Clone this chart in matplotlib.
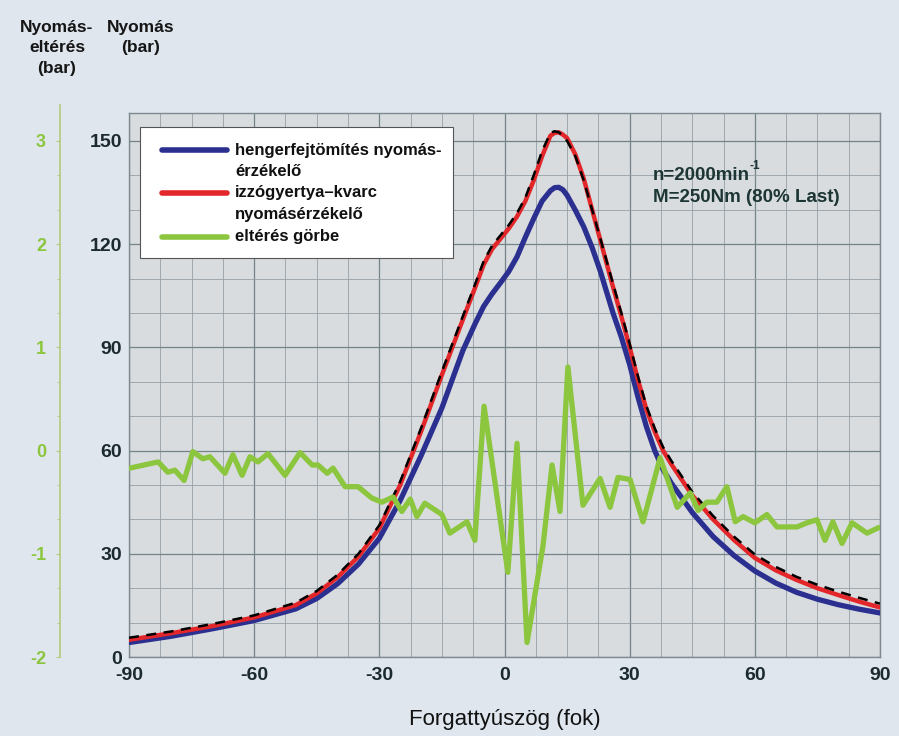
import numpy as np
import matplotlib
matplotlib.use("Agg")
from matplotlib import pyplot as plt
from matplotlib.patches import Rectangle
from matplotlib.lines import Line2D

# forgattyuszog (fok) a nyomasgorbekhez
angle = [-90, -80, -70, -60, -50, -45, -40, -35, -30, -25, -20, -15, -10, -7, -5, -3, -1,
         1, 3, 5, 7, 9, 11, 12, 13, 14, 15, 17, 19, 21, 23, 26, 28, 30, 32, 34, 36, 38, 40,
         45, 50, 55, 60, 65, 70, 75, 80, 85, 90]

# hengerfejtomites nyomaserzekelo (bar)
p_head = [4.2, 6.0, 8.2, 10.6, 14.0, 17.0, 21.3, 27.0, 34.5, 45.5, 58.5, 72.4, 89.0, 97.0,
          101.9, 105.5, 108.7, 112.0, 116.3, 122.0, 127.4, 132.5, 135.5, 136.4, 136.5, 135.8,
          134.2, 129.8, 125.0, 119.0, 112.0, 100.0, 93.0, 85.0, 75.5, 67.0, 60.0, 54.5, 50.5,
          42.0, 35.0, 29.5, 25.0, 21.5, 18.8, 16.8, 15.2, 13.9, 12.8]

# izzogyertya-kvarc nyomaserzekelo (bar)
p_plug = [5.0, 6.9, 9.0, 11.5, 15.1, 18.5, 23.2, 29.2, 37.4, 50.0, 65.5, 82.0, 98.0, 107.5,
          114.0, 118.5, 121.5, 124.5, 128.0, 132.5, 138.5, 145.5, 151.5, 152.3, 152.5, 151.8,
          150.8, 146.0, 139.0, 130.0, 121.0, 107.6, 99.0, 90.0, 80.5, 72.0, 65.5, 60.0, 56.0,
          47.0, 40.0, 34.0, 28.8, 25.2, 22.4, 20.0, 18.0, 16.1, 14.4]

# referencia (fekete szaggatott)
p_ref = [5.6, 7.4, 9.6, 12.1, 15.8, 19.2, 23.9, 30.0, 38.3, 51.0, 66.5, 83.0, 99.0, 108.5,
         115.0, 119.5, 122.5, 125.5, 129.0, 133.5, 140.0, 147.0, 152.3, 152.8, 152.5, 151.5,
         150.0, 145.5, 138.5, 130.0, 121.5, 108.5, 100.0, 91.0, 81.5, 73.0, 66.5, 61.0, 57.0,
         48.0, 41.0, 35.0, 29.8, 26.2, 23.3, 21.0, 19.0, 17.2, 15.5]

# elteres gorbe (bar)
g_angle = [-89.8, -83.0, -80.7, -79.0, -76.8, -74.7, -72.3, -70.6, -67.0, -65.1, -62.9, -61.0,
           -59.1, -56.7, -52.6, -49.0, -46.1, -44.7, -42.5, -41.1, -38.2, -35.1, -31.8, -29.4,
           -26.7, -24.6, -22.6, -21.0, -19.1, -15.0, -13.1, -9.0, -7.1, -4.9, 0.8, 3.0, 5.4,
           9.2, 11.4, 13.3, 15.2, 18.8, 22.9, 25.3, 27.2, 30.1, 33.2, 37.3, 41.4, 44.5, 46.4,
           48.5, 50.9, 53.3, 55.3, 57.2, 60.0, 62.9, 65.3, 70.1, 72.5, 74.9, 76.8, 78.7, 80.9,
           83.3, 86.9, 89.5]
g_dev = [-0.17, -0.11, -0.21, -0.19, -0.29, -0.01, -0.08, -0.06, -0.22, -0.04, -0.24, -0.06,
         -0.11, -0.03, -0.24, -0.02, -0.14, -0.14, -0.22, -0.17, -0.35, -0.35, -0.46, -0.50,
         -0.45, -0.59, -0.47, -0.64, -0.51, -0.62, -0.80, -0.69, -0.87, 0.43, -1.18, 0.07, -1.86,
         -0.93, -0.14, -0.59, 0.81, -0.53, -0.27, -0.55, -0.26, -0.28, -0.69, -0.07, -0.55,
         -0.41, -0.58, -0.50, -0.50, -0.35, -0.69, -0.64, -0.70, -0.62, -0.74, -0.74, -0.70,
         -0.67, -0.87, -0.69, -0.90, -0.70, -0.80, -0.75]

x_ticks = [-90, -60, -30, 0, 30, 60, 90]
p_ticks = [0, 30, 60, 90, 120, 150]
d_ticks = [-2, -1, 0, 1, 2, 3]
legend_labels = ["hengerfejtömítés nyomás-\nérzékelő", "izzógyertya–kvarc\nnyomásérzékelő",
                 "eltérés görbe"]

BLUE = "#2b2f8f"
RED = "#e3262a"
GREEN = "#8cc63e"
DARK = "#1b2a2e"
BG = "#dfe6ee"

plt.rcParams["font.family"] = ["Liberation Sans", "DejaVu Sans"]
plt.rcParams["axes.unicode_minus"] = False

fig = plt.figure(figsize=(8.99, 7.36), dpi=100, facecolor=BG)
W, H = 899, 736
ax = fig.add_axes([129 / W, 1 - 657 / H, 751 / W, 544 / H])
ax.set_facecolor("#d8dcde")

pmax = 158.1
ax.set_xlim(-90, 90)
ax.set_ylim(0, pmax)
ax.set_xticks(x_ticks)
ax.set_yticks(p_ticks)
ax.set_xticks(np.arange(-90, 91, 7.5), minor=True)
ax.set_yticks(np.arange(0, 158, 10), minor=True)
ax.grid(which="major", color="#74828a", lw=0.9)
ax.grid(which="minor", color="#95a0a6", lw=0.6)
ax.set_axisbelow(True)
ax.tick_params(which="both", length=0)
ax.tick_params(axis="y", pad=5, labelsize=14, labelcolor=DARK)
ax.tick_params(axis="x", pad=7, labelsize=14, labelcolor=DARK)
for lab in ax.get_xticklabels() + ax.get_yticklabels():
    lab.set_fontweight("bold")
for sp in ax.spines.values():
    sp.set_color("#7f8a90")
    sp.set_linewidth(1.0)

ax.set_xlabel("Forgattyúszög (fok)", fontsize=16, color="#111111", labelpad=18)

ax.plot(angle, p_head, color=BLUE, lw=3.8, solid_capstyle="round",
        solid_joinstyle="round", zorder=3)
ax.plot(angle, p_plug, color=RED, lw=3.2, solid_capstyle="round",
        solid_joinstyle="round", zorder=4)
ax.plot(angle, p_ref, color="black", lw=1.8, ls=(0, (4, 3)), zorder=5)

# zold tengely: elteres
ax2 = ax.twinx()
ax2.set_ylim(-2, pmax / 30 - 2)
ax2.yaxis.set_ticks_position("left")
ax2.yaxis.set_label_position("left")
for s in ["right", "top", "bottom"]:
    ax2.spines[s].set_visible(False)
ax2.spines["left"].set_position(("axes", (60 - 129) / 751))
ax2.spines["left"].set_color("#b5c97a")
ax2.spines["left"].set_linewidth(1.2)
ax2.spines["left"].set_bounds(-2, 3.35)
ax2.set_yticks(d_ticks)
ax2.set_yticks(np.arange(-2, 3.3, 1 / 3), minor=True)
ax2.tick_params(axis="y", which="major", length=3, color="#b5c97a", pad=7,
                labelsize=13, labelcolor=GREEN)
ax2.tick_params(axis="y", which="minor", length=2, color="#b5c97a")
for lab in ax2.get_yticklabels():
    lab.set_fontweight("bold")
ax2.plot(g_angle, g_dev, color=GREEN, lw=3.8, solid_joinstyle="round", zorder=6)

# jelmagyarazat
def axc(px, py):
    return (px - 129) / 751, (657 - py) / 544

bx0, by0 = axc(140, 258)
bx1, by1 = axc(453, 127)
ax.add_patch(Rectangle((bx0, by0), bx1 - bx0, by1 - by0, transform=ax.transAxes,
                       facecolor="white", edgecolor="#555555", lw=0.8, zorder=8))
rows = [150, 193, 237]
for lbl, col, py in zip(legend_labels, [BLUE, RED, GREEN], rows):
    hx0, hy = axc(162, py)
    hx1, _ = axc(227, py)
    ax.add_line(Line2D([hx0, hx1], [hy, hy], transform=ax.transAxes, color=col,
                       lw=4.0, solid_capstyle="round", zorder=9))
    for i, part in enumerate(lbl.split("\n")):
        tx, ty = axc(235, py + 21 * i)
        ax.text(tx, ty, part, transform=ax.transAxes, fontsize=12, fontweight="bold",
                color="#111111", ha="left", va="center", zorder=10)

tx, ty = axc(653, 176)
t1 = ax.text(tx, ty, "n=2000min", transform=ax.transAxes, fontsize=13.5,
             fontweight="bold", color="#1d3535", ha="left", va="center", zorder=10)
ax.annotate("-1", xy=(1, 1), xycoords=t1, xytext=(0, 1), textcoords="offset points",
            fontsize=8.5, fontweight="bold", color="#1d3535", ha="left", va="center",
            zorder=10)
tx, ty = axc(653, 197)
ax.text(tx, ty, "M=250Nm (80% Last)", transform=ax.transAxes, fontsize=13.5,
        fontweight="bold", color="#1d3535", ha="left", va="center", zorder=10)

fig.text(57 / W, 1 - 20 / H, "Nyomás-\neltérés\n(bar)", ha="center", va="top",
         multialignment="center", fontsize=12.5, fontweight="bold", color="#161616",
         linespacing=1.45)
fig.text(141 / W, 1 - 20 / H, "Nyomás\n(bar)", ha="center", va="top",
         multialignment="center", fontsize=12.5, fontweight="bold", color="#161616",
         linespacing=1.45)

fig.savefig("out.png", dpi=100, facecolor=BG)
